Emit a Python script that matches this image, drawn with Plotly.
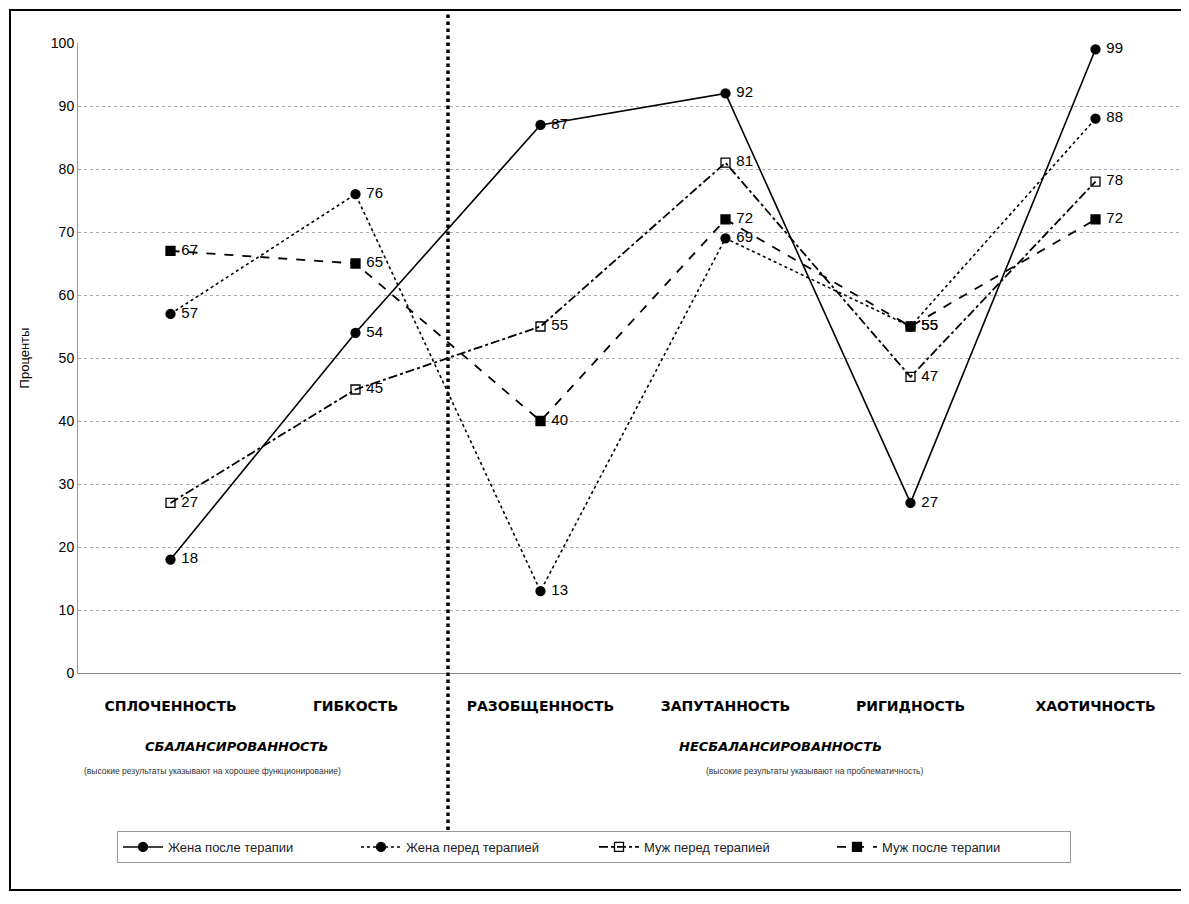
import plotly.graph_objects as go

categories = ["СПЛОЧЕННОСТЬ", "ГИБКОСТЬ", "РАЗОБЩЕННОСТЬ", "ЗАПУТАННОСТЬ", "РИГИДНОСТЬ", "ХАОТИЧНОСТЬ"]
wife_after = [18, 54, 87, 92, 27, 99]
wife_before = [57, 76, 13, 69, 55, 88]
husband_before = [27, 45, 55, 81, 47, 78]
husband_after = [67, 65, 40, 72, 55, 72]

series_names = ["Жена после терапии", "Жена перед терапией", "Муж перед терапией", "Муж после терапии"]
y_ticks = [0, 10, 20, 30, 40, 50, 60, 70, 80, 90, 100]
group_labels = ["СБАЛАНСИРОВАННОСТЬ", "НЕСБАЛАНСИРОВАННОСТЬ"]
group_notes = ["(высокие результаты указывают на хорошее функционирование)",
               "(высокие результаты указывают на проблематичность)"]

FONT = "Liberation Sans, Arial, sans-serif"

styles = [
    dict(dash="solid", symbol="circle", width=1.6),
    dict(dash="dot", symbol="circle", width=1.6),
    dict(dash="dashdot", symbol="square-open", width=1.8),
    dict(dash="dash", symbol="square", width=1.8),
]

fig = go.Figure()
for name, vals, st in zip(series_names, [wife_after, wife_before, husband_before, husband_after], styles):
    fig.add_trace(go.Scatter(
        x=categories, y=vals, name=name,
        mode="lines+markers+text",
        text=[f" {v}" for v in vals],
        textposition="middle right",
        textfont=dict(family=FONT, size=15, color="black"),
        line=dict(color="black", width=st["width"], dash=st["dash"]),
        marker=dict(symbol=st["symbol"], size=9, color="black",
                    line=dict(color="black", width=1.3)),
        cliponaxis=False,
    ))

OFF = 8  # page body margin in the browser
W, H = 1189 - OFF, 904 - OFF
L, R, T = 78 - OFF, 1, 43 - OFF
B = H - (673 - OFF)
pw = W - L - R
ph = H - T - B


def px_x(p):
    return (p - OFF - L) / pw


def px_y(p):
    return (H - B - (p - OFF)) / ph


fig.update_layout(
    width=W, height=H,
    margin=dict(l=L, r=R, t=T, b=B),
    paper_bgcolor="white", plot_bgcolor="white",
    font=dict(family=FONT, color="black"),
    showlegend=True,
    legend=dict(
        orientation="h", x=px_x(594), y=px_y(847), xanchor="center", yanchor="middle",
        font=dict(family=FONT, size=13, color="#222"),
        bordercolor="#999", borderwidth=1, bgcolor="white",
        entrywidth=183, itemwidth=40,
    ),
    xaxis=dict(
        type="category", range=[-0.5, 5.5],
        showgrid=False, ticks="", showline=True, linecolor="#888", linewidth=1,
        tickfont=dict(family="DejaVu Sans", size=14, color="black", weight="bold"),
        ticklabelstandoff=20,
        zeroline=False,
    ),
    yaxis=dict(
        range=[0, 100], tickvals=y_ticks, ticktext=[str(v) for v in y_ticks],
        showgrid=True, gridcolor="#aaaaaa", griddash="dot", gridwidth=1,
        showline=True, linecolor="#999", linewidth=1,
        tickfont=dict(family=FONT, size=14, color="black"),
        ticks="", zeroline=False,
        title=dict(text="Проценты", font=dict(family=FONT, size=13), standoff=18),
    ),
)

# outer frame
fig.add_shape(type="rect", xref="paper", yref="paper",
              x0=px_x(10), x1=px_x(1185), y0=px_y(890), y1=px_y(10),
              line=dict(color="black", width=2), layer="below")

# vertical separator between balanced and unbalanced scales
fig.add_shape(type="line", xref="x", yref="paper",
              x0=1.5, x1=1.5, y0=px_y(830), y1=px_y(12),
              line=dict(color="black", width=3.5, dash="dot"))

for lbl, cx in zip(group_labels, [236, 780]):
    fig.add_annotation(xref="paper", yref="paper", x=px_x(cx), y=px_y(746),
                       text=f"<b><i>{lbl}</i></b>", showarrow=False,
                       font=dict(family="DejaVu Sans", size=13, color="black"),
                       xanchor="center", yanchor="middle")
for note, cx in zip(group_notes, [212, 814]):
    fig.add_annotation(xref="paper", yref="paper", x=px_x(cx), y=px_y(771),
                       text=note, showarrow=False,
                       font=dict(family=FONT, size=8.5, color="#333"),
                       xanchor="center", yanchor="middle")

fig.write_html("out.html")
